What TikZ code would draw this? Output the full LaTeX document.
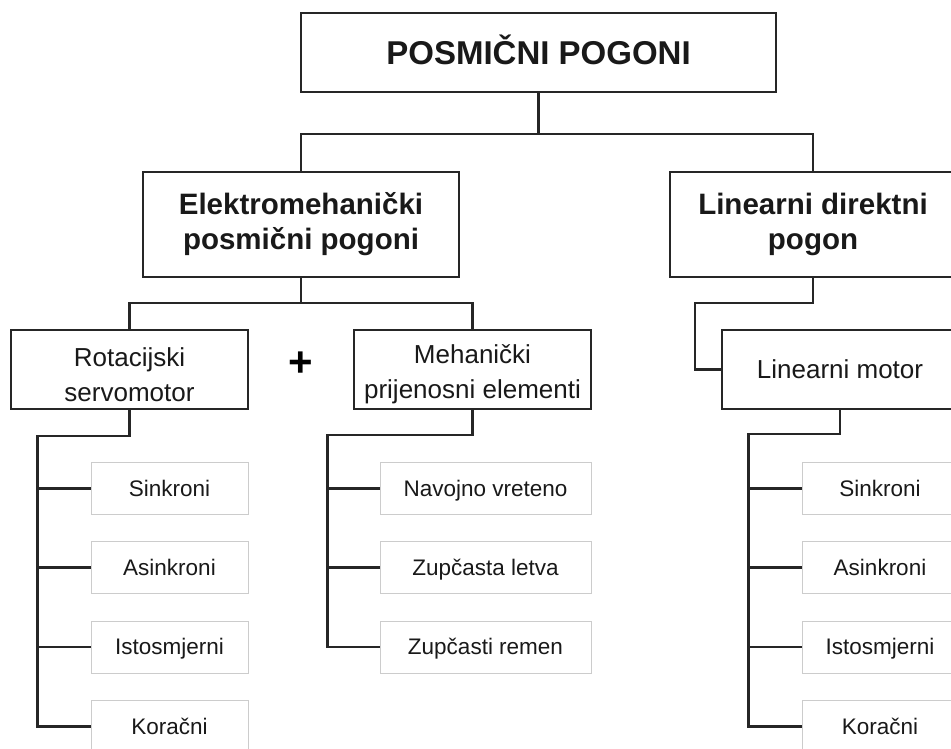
\documentclass[tikz,border=0pt]{standalone}
\usepackage{fontspec}
\setmainfont{Liberation Sans}
\usetikzlibrary{positioning}
\tikzset{
    box/.style={draw=black!85, line width=1.8pt, fill=white, rectangle, align=center,
        inner sep=0pt, text=black!90},
    topbox/.style={box, minimum width=475pt, minimum height=79pt, text height=24pt, text depth=0pt,
        font=\fontsize{33}{38}\selectfont\bfseries},
    groupbox/.style={box, minimum height=105pt,
        font=\fontsize{29.5}{35}\selectfont\bfseries},
    partbox/.style={box, minimum width=237pt, minimum height=79pt},
    parttext/.style={text=black!90, inner sep=0pt, align=center,
        font=\fontsize{26}{35}\selectfont},
    leafbox/.style={draw=black!20, line width=0.9pt, fill=white, rectangle, align=center,
        inner sep=0pt, minimum height=52pt},
    leaftext/.style={text=black!90, inner sep=0pt, text height=15pt, text depth=0pt,
        font=\fontsize{22.5}{25}\selectfont},
    link/.style={draw=black!85, line width=2.2pt}
}
\begin{document}
\begin{tikzpicture}[x=1pt, y=-1pt]
    \useasboundingbox (0,0) rectangle (951,748);
    % levels 1 and 2
    \node[topbox] (top) at (538.5,52.5) {POSMIČNI POGONI};
    \node[groupbox, minimum width=316pt] (elmeh) at (301,224.5) {Elektromehanički\\posmični pogoni};
    \node[groupbox, minimum width=286pt] (lindir) at (813,224.5) {Linearni direktni\\pogon};
    \draw[link] (top.south) -- ++(0,41) -| (elmeh.north);
    \draw[link] (top.south) -- ++(0,41) -| (lindir.north);
    % level 3
    \node[partbox] (rot) at (129.5,369.5) {};
    \node[partbox] (meh) at (472.5,369.5) {};
    \node[partbox, minimum width=236pt] (linmot) at (840,369.5) {};
    \node[parttext] at ([yshift=-5pt]rot) {Rotacijski\\servomotor};
    \node[parttext] at ([yshift=-5pt]meh) {Mehanički\\prijenosni elementi};
    \node[parttext] at (linmot) {Linearni motor};
    \node[font=\fontsize{42}{42}\selectfont\bfseries, inner sep=0pt] (plus) at (301,364) {+};
    \draw[link] (elmeh.south) -- ++(0,25) -| (rot.north);
    \draw[link] (elmeh.south) -- ++(0,25) -| (meh.north);
    \draw[link] (lindir.south) -- ++(0,25) -| ([xshift=-26pt]linmot.west) -- (linmot.west);
    % leaves
    \foreach \y [count=\i] in {488.5,567.5,647,726.5} {
        \node[leafbox, minimum width=157pt] (rl\i) at (169.5,\y) {};
        \node[leafbox, minimum width=156pt] (ll\i) at (880,\y) {};
    }
    \foreach \y [count=\i] in {488.5,567.5,647} {
        \node[leafbox, minimum width=211pt] (ml\i) at (485.5,\y) {};
    }
    \foreach \t [count=\i] in {Sinkroni,Asinkroni,Istosmjerni,Koračni} {
        \node[leaftext] at (rl\i) {\t};
        \node[leaftext] at (ll\i) {\t};
    }
    \foreach \t [count=\i] in {Navojno vreteno,Zupčasta letva,Zupčasti remen} {
        \node[leaftext] at (ml\i) {\t};
    }
    \draw[link] (rot.south) -- ++(0,26) -| ([xshift=-53pt]rl4.west) -- (rl4.west);
    \draw[link] (meh.south) -- ++(0,25) -| ([xshift=-52pt]ml3.west) -- (ml3.west);
    \draw[link] (linmot.south) -- ++(0,24) -| ([xshift=-53pt]ll4.west) -- (ll4.west);
    \foreach \i in {1,2,3} {
        \draw[link] (rl\i.west) -- ++(-53,0);
        \draw[link] (ll\i.west) -- ++(-53,0);
    }
    \foreach \i in {1,2} {
        \draw[link] (ml\i.west) -- ++(-52,0);
    }
\end{tikzpicture}
\end{document}
